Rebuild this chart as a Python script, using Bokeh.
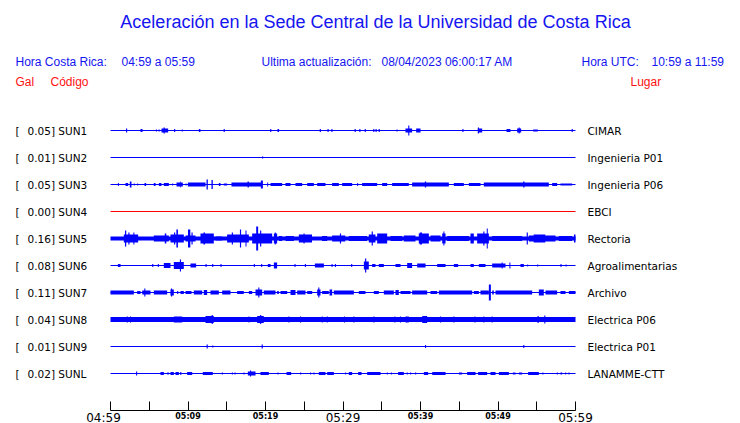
from bokeh.plotting import figure
from bokeh.models import Range1d, LinearAxis, FixedTicker, Label
from bokeh.embed import file_html
from bokeh.resources import INLINE

# ---------------- data ----------------
title_text = "Aceleración en la Sede Central de la Universidad de Costa Rica"
hora_cr_label = "Hora Costa Rica:"
hora_cr = "04:59 a 05:59"
update_label = "Ultima actualización:"
update_time = "08/04/2023 06:00:17 AM"
hora_utc_label = "Hora UTC:"
hora_utc = "10:59 a 11:59"

codes = ["SUN1", "SUN2", "SUN3", "SUN4", "SUN5", "SUN6", "SUN7", "SUN8", "SUN9", "SUNL"]
gal = ["0.05", "0.01", "0.05", "0.00", "0.16", "0.08", "0.11", "0.04", "0.01", "0.02"]
places = ["CIMAR", "Ingenieria P01", "Ingenieria P06", "EBCI", "Rectoria",
          "Agroalimentarias", "Archivo", "Electrica P06", "Electrica P01", "LANAMME-CTT"]
# background noise half-amplitude of each trace (display units)
noise = [0.5, 0.5, 0.5, 0.5, 2.0, 0.5, 0.5, 2.5, 0.5, 0.5]

# minutes after 04:59
tick_minutes = [0, 5, 10, 15, 20, 25, 30, 35, 40, 45, 50, 55, 60]
label_minutes = [0, 10, 20, 30, 40, 50, 60]
label_texts = ["04:59", "05:09", "05:19", "05:29", "05:39", "05:49", "05:59"]

# bursts: (start minute, end minute, half-amplitude)
bursts_sun1 = [(2.0, 2.15, 2), (3.87, 4.13, 1.5), (5.85, 6.0, 1), (6.2, 6.35, 1),
               (6.58, 7.44, 2), (6.85, 7.0, 3), (8.2, 8.35, 1.5), (9.2, 9.33, 1),
               (11.4, 11.6, 1.5), (14.6, 14.75, 1.5), (20.6, 20.75, 1.5), (21.55, 21.75, 1.5),
               (27.0, 27.15, 1.5), (28.0, 28.15, 1.5), (28.5, 28.65, 1.5), (31.5, 31.65, 1.5),
               (32.1, 32.25, 1.5), (32.8, 32.95, 1.5), (33.9, 34.05, 1.5), (34.2, 34.35, 1.5),
               (34.6, 34.75, 1.5), (36.9, 37.05, 1), (38.06, 38.92, 2), (38.42, 38.56, 5),
               (39.44, 40.0, 2), (45.4, 45.55, 1.5), (47.4, 47.55, 3), (47.4, 47.96, 2),
               (51.1, 51.6, 1.5), (52.47, 52.99, 2), (52.66, 52.8, 3), (54.54, 55.14, 1),
               (59.5, 59.65, 1.5)]
bursts_sun2 = [(19.55, 19.7, 1)]
bursts_sun3 = [(0.95, 1.08, 1.5), (1.94, 2.28, 1.5), (2.49, 2.71, 3), (3.0, 3.13, 1),
               (3.44, 3.57, 1), (4.39, 4.6, 1.5), (5.59, 5.81, 1.5), (6.24, 6.58, 1.5),
               (6.88, 7.53, 1.5), (7.96, 8.09, 1), (8.52, 9.33, 2), (9.0, 9.08, 3),
               (9.68, 9.81, 1), (9.98, 12.26, 2), (12.39, 12.56, 5), (13.03, 13.2, 4.5),
               (13.98, 14.19, 1.5), (14.62, 15.05, 1), (15.61, 19.57, 2), (17.68, 17.85, 3),
               (19.4, 19.66, 4), (20.22, 20.34, 2), (20.65, 22.15, 1.5), (22.58, 23.23, 1.5),
               (23.87, 24.73, 1.5), (25.38, 26.24, 1.5), (26.67, 27.74, 1.5), (28.6, 29.46, 1.5),
               (29.89, 31.18, 1.5), (31.83, 31.96, 1.5), (32.47, 34.41, 1.5), (35.05, 35.7, 1.5),
               (36.34, 38.49, 1.5), (38.92, 43.66, 2), (40.56, 40.73, 3), (44.3, 45.59, 1.5),
               (46.24, 47.74, 1.5), (48.17, 56.56, 2), (53.25, 53.42, 3), (56.99, 57.63, 1.5),
               (58.06, 59.57, 1)]
bursts_sun4 = []
bursts_sun5 = [(1.72, 3.57, 4), (1.87, 2.03, 8), (2.3, 2.45, 6), (2.95, 3.08, 6),
               (5.59, 7.53, 3), (7.0, 7.2, 5), (7.74, 9.46, 4), (8.2, 8.35, 6),
               (8.5, 8.7, 9), (9.68, 10.97, 3), (10.0, 10.3, 9), (10.45, 10.6, 6),
               (11.61, 13.33, 5), (12.0, 12.2, 6), (13.55, 14.41, 2), (15.05, 17.85, 4),
               (15.65, 15.8, 6), (16.7, 16.85, 9), (17.42, 17.55, 8), (18.28, 20.86, 5),
               (18.8, 19.05, 12), (19.3, 19.45, 8), (21.08, 21.5, 5), (21.2, 21.33, 6),
               (21.72, 22.15, 2.5), (22.58, 23.66, 2.5), (24.3, 26.0, 4), (24.9, 25.05, 5),
               (27.3, 27.96, 2.5), (28.6, 30.3, 3), (29.6, 29.75, 5), (30.75, 33.1, 2.5),
               (33.33, 34.19, 4), (33.7, 33.85, 7), (34.41, 35.7, 5), (36.13, 37.63, 2.5),
               (37.85, 39.35, 3), (39.78, 41.08, 5), (39.9, 40.2, 6), (41.29, 42.58, 3),
               (42.8, 43.23, 5), (42.95, 43.08, 7), (43.44, 46.24, 2.5), (46.45, 46.88, 5),
               (47.31, 48.82, 5), (48.1, 48.25, 7), (48.55, 48.68, 10), (49.25, 53.12, 2.5),
               (53.7, 53.85, 6), (53.98, 57.42, 3), (54.6, 56.1, 4), (57.85, 59.57, 2.5),
               (59.8, 60.0, 4)]
bursts_sun6 = [(0.95, 1.29, 1.5), (5.38, 5.52, 1.5), (6.1, 6.24, 1.5), (6.88, 7.74, 2.5),
               (8.17, 9.46, 3.5), (8.95, 9.1, 6), (10.32, 11.05, 2), (12.26, 12.4, 1.5),
               (13.12, 13.26, 1.5), (14.19, 14.33, 1.5), (18.49, 18.63, 1.5), (19.44, 19.58, 1.5),
               (20.3, 20.65, 1.5), (21.08, 21.5, 3), (23.74, 23.88, 1.5), (25.08, 25.22, 1.5),
               (26.37, 27.53, 2), (28.52, 28.66, 1.5), (28.95, 29.09, 1.5), (31.05, 31.19, 1.5),
               (32.69, 33.33, 4), (32.85, 33.0, 7), (33.76, 34.19, 1.5), (34.62, 35.27, 1.5),
               (36.77, 37.42, 1.5), (38.28, 38.92, 2.5), (39.57, 40.65, 2), (42.15, 43.23, 1.5),
               (44.3, 44.86, 1.5), (46.45, 46.88, 1.5), (47.53, 48.39, 1.5), (49.25, 50.97, 2),
               (50.47, 50.6, 3), (51.47, 51.6, 3), (52.9, 53.33, 1.5), (53.76, 53.9, 1),
               (55.05, 55.19, 1), (58.06, 58.2, 1.5), (58.71, 58.85, 1)]
bursts_sun7 = [(0.0, 3.01, 2), (3.44, 3.87, 1.5), (4.09, 5.16, 2), (4.36, 4.5, 4),
               (5.59, 7.31, 2), (7.74, 8.17, 3), (7.8, 7.95, 4), (8.6, 8.74, 1.5),
               (9.03, 9.46, 1.5), (9.68, 10.45, 1.5), (10.75, 11.83, 2), (12.04, 12.47, 2.5),
               (12.9, 13.98, 2), (14.41, 15.48, 2), (16.34, 17.2, 1.5), (17.85, 18.28, 1.5),
               (18.71, 19.57, 3), (19.07, 19.21, 5), (19.78, 21.29, 2), (21.5, 21.72, 1.5),
               (21.94, 22.8, 1.5), (23.23, 23.87, 2.5), (24.09, 25.16, 2), (25.38, 26.02, 1.5),
               (26.67, 27.1, 3), (26.81, 26.95, 5), (27.31, 28.17, 1.5), (28.26, 28.6, 3),
               (28.82, 31.4, 2), (32.04, 32.9, 1.5), (33.98, 34.62, 1.5), (35.27, 36.56, 2),
               (36.77, 37.2, 2.5), (37.42, 38.71, 1.5), (38.92, 40.86, 2), (41.29, 42.15, 1.5),
               (42.37, 46.67, 2), (46.88, 47.53, 1.5), (47.74, 48.82, 2), (48.82, 49.08, 8),
               (49.25, 49.46, 2), (49.68, 54.41, 2), (55.27, 55.91, 3), (56.13, 57.63, 2),
               (58.06, 58.71, 1.5), (59.14, 60.0, 1.5)]
bursts_sun8 = [(2.1, 2.24, 3), (2.52, 2.66, 3), (8.17, 9.25, 3), (12.26, 13.33, 3.5),
               (13.05, 13.2, 4.5), (17.8, 17.94, 3), (18.92, 19.78, 3.5), (19.3, 19.45, 4.5),
               (22.95, 23.09, 3), (24.45, 24.59, 3), (27.25, 27.39, 3), (27.9, 28.04, 3),
               (30.12, 30.26, 3), (31.33, 31.47, 3), (33.92, 34.06, 3), (36.62, 36.76, 3),
               (37.35, 37.49, 3), (38.06, 38.49, 3), (40.22, 40.86, 3.5), (42.52, 42.66, 3),
               (44.24, 44.38, 3), (46.95, 47.09, 3), (48.1, 48.24, 3), (49.18, 49.32, 3),
               (55.1, 55.25, 3.5), (55.97, 56.11, 4)]
bursts_sun9 = [(12.4, 12.55, 2), (13.13, 13.27, 1), (19.5, 19.65, 2), (40.58, 40.72, 1.5),
               (53.26, 53.4, 1.5)]
bursts_sunl = [(3.3, 3.44, 2), (6.45, 6.88, 1.5), (7.31, 7.53, 1), (7.74, 8.17, 1.5),
               (8.39, 8.82, 1.5), (9.0, 9.14, 1.5), (9.89, 10.54, 1.5), (11.91, 13.2, 1.5),
               (14.36, 14.5, 1), (15.65, 15.79, 1), (16.0, 16.14, 1), (17.15, 17.29, 1),
               (17.72, 18.71, 2), (18.0, 18.14, 3), (19.35, 20.43, 1.5), (21.54, 21.68, 1),
               (22.71, 23.31, 1.5), (24.47, 24.61, 1), (25.76, 25.9, 1), (26.19, 26.33, 1),
               (26.88, 27.74, 1.5), (27.96, 28.82, 1.5), (30.27, 30.41, 1), (30.75, 31.18, 1.5),
               (31.96, 32.39, 1.5), (33.12, 34.84, 1.5), (35.65, 35.79, 1), (36.17, 36.31, 1),
               (37.12, 37.85, 1.5), (38.23, 38.37, 1), (38.66, 38.8, 1), (39.3, 39.44, 1),
               (40.43, 40.99, 1.5), (41.51, 43.23, 1.5), (44.95, 45.38, 1), (46.02, 47.1, 1.5),
               (47.44, 48.6, 1.5), (49.03, 49.68, 1.5), (50.11, 51.4, 1.5), (51.91, 52.26, 1),
               (52.69, 53.12, 1), (53.89, 55.27, 1.5), (55.73, 55.87, 1), (57.58, 57.72, 1),
               (58.06, 58.28, 1), (58.66, 58.8, 1), (59.09, 59.23, 1)]

bursts = [bursts_sun1, bursts_sun2, bursts_sun3, bursts_sun4, bursts_sun5,
          bursts_sun6, bursts_sun7, bursts_sun8, bursts_sun9, bursts_sunl]

# ---------------- layout / style ----------------
W, H = 740, 423               # Bokeh's page template has no body margin
X0, X1 = 110, 575             # trace start/end (page px) = minute 0 / 60
ROW0, ROW_STEP = 130, 27
AXIS_Y = 409.5
ppm = (X1 - X0) / 60.0

BLUE = "#0000ff"
TXT_BLUE = "#1515f0"
RED = "#ff1010"
TRACE_RED = "#ff0000"
SANS = "Liberation Sans"
DEJAVU = "DejaVu Sans"

p = figure(width=W, height=H, output_backend="svg", toolbar_location=None,
           x_axis_type=None, y_axis_type=None,
           x_range=Range1d(-X0 / ppm, 60 + (W - X1) / ppm),
           y_range=Range1d(H, 0),
           min_border_left=0, min_border_right=0, min_border_top=0,
           min_border_bottom=0)
p.outline_line_color = None
p.background_fill_color = "white"
p.border_fill_color = "white"
p.xgrid.visible = False
p.ygrid.visible = False

# traces
for i, (code, g, nz, bl) in enumerate(zip(codes, gal, noise, bursts)):
    yc = ROW0 + ROW_STEP * i
    col = TRACE_RED if float(g) == 0 else BLUE
    p.segment(x0=[0], y0=[yc], x1=[60], y1=[yc], line_color=col,
              line_width=max(1.0, 2 * nz), line_cap="butt")
    if bl:
        p.quad(left=[b[0] for b in bl], right=[b[1] for b in bl],
               top=[yc - b[2] for b in bl], bottom=[yc + b[2] for b in bl],
               fill_color=col, line_color=None)

# time axis (fixed inside the canvas)
ax = LinearAxis(ticker=FixedTicker(ticks=tick_minutes), bounds=(0, 60),
                fixed_location=AXIS_Y,
                major_tick_in=9, major_tick_out=0, minor_tick_in=0, minor_tick_out=0,
                major_label_overrides={t: "" for t in tick_minutes},
                major_label_text_font_size="1px", major_label_standoff=0,
                axis_line_color="black", major_tick_line_color="black",
                axis_line_width=1, major_tick_line_width=1)
p.add_layout(ax, "below")

for m, t in zip(label_minutes, label_texts):
    big = (m % 30 == 0)
    p.add_layout(Label(x=m, y=AXIS_Y + (7.5 if big else 6.5), x_units="data", y_units="data",
                       text=t, text_align="center", text_baseline="middle",
                       x_offset=-7 if m == 0 else 0,
                       text_font=DEJAVU, text_font_size="12px" if big else "8px",
                       text_font_style="normal" if big else "bold",
                       text_color="black"))


def lab(x, y, text, color, size, font=SANS, align="left", baseline="middle"):
    p.add_layout(Label(x=x, y=y, x_units="screen", y_units="data", text=text,
                       text_color=color, text_font_size=size, text_font=font,
                       text_align=align, text_baseline=baseline))


lab(375, 21, title_text, TXT_BLUE, "18px", align="center")
lab(15, 61, hora_cr_label, TXT_BLUE, "12px")
lab(121, 61, hora_cr, TXT_BLUE, "12px")
lab(261, 61, update_label, TXT_BLUE, "12px")
lab(381, 61, update_time, TXT_BLUE, "12px")
lab(581, 61, hora_utc_label, TXT_BLUE, "12px")
lab(651, 61, hora_utc, TXT_BLUE, "12px")
lab(15, 81, "Gal", RED, "12px")
lab(50, 81, "Código", RED, "12px")
lab(630, 81, "Lugar", RED, "12px")

for i, (code, g, place) in enumerate(zip(codes, gal, places)):
    yc = ROW0 + 0.5 + ROW_STEP * i
    lab(15, yc, "[", "black", "10.5px", font=DEJAVU)
    lab(27, yc, f"{g}] {code}", "black", "10.5px", font=DEJAVU)
    lab(587, yc, place, "black", "10.5px", font=DEJAVU)

open("out.html", "w").write(file_html(p, INLINE))
